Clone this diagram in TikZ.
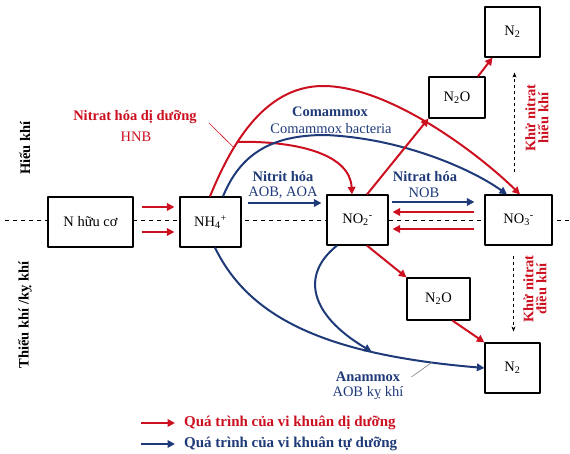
\documentclass[tikz,border=0pt]{standalone}
\usepackage{fontspec}
\setmainfont{Liberation Serif}
\usetikzlibrary{arrows.meta,positioning}
\definecolor{dgRed}{HTML}{CC1020}
\definecolor{tdBlue}{HTML}{1F3A78}

\begin{document}
\begin{tikzpicture}[x=1pt,y=-1pt,>={Triangle[length=7.5pt,width=7.5pt]},line join=round,
    font=\fontsize{14.5}{15}\selectfont,
    box/.style={draw,line width=1.2pt,fill=white,minimum height=50pt,inner sep=1pt},
    redarr/.style={->,dgRed,line width=2pt},
    bluearr/.style={->,tdBlue,line width=2pt},
    redlbl/.style={dgRed,inner sep=1pt,font=\fontsize{14.5}{15}\selectfont\bfseries},
    bluelbl/.style={tdBlue,inner sep=1pt,font=\fontsize{14.5}{15}\selectfont\bfseries},
    bluetxt/.style={tdBlue,inner sep=1pt},
    sidelbl/.style={rotate=90,align=center,font=\fontsize{14.5}{13}\selectfont\bfseries}]
    \useasboundingbox (0,0) rectangle (570,454);
    % oxic / anoxic boundary
    \draw[dashed,line width=0.9pt,dash pattern=on 4pt off 4pt] (5,220) -- (570,220);
    \node[sidelbl] (oxic) at (25,148) {Hiếu khí};
    \node[sidelbl] (anoxic) at (25,315) {Thiếu khí /kỵ khí};
    % compounds
    \node[box,minimum width=85pt] (org) at (90.5,222) {N hữu cơ};
    \node[box,minimum width=61pt] (nh4) at (210.5,222) {NH\textsubscript{4}\textsuperscript{+}};
    \node[box,minimum width=61pt] (no2) at (357.5,220) {NO\textsubscript{2}\textsuperscript{-}};
    \node[box,minimum width=67pt] (no3) at (518.5,220) {NO\textsubscript{3}\textsuperscript{-}};
    \node[box,minimum width=55pt] (n2top) at (512.5,32) {N\textsubscript{2}};
    \node[box,minimum width=56pt,minimum height=41pt] (n2otop) at (457,97.5) {N\textsubscript{2}O};
    \node[box,minimum width=63pt,minimum height=42pt] (n2obot) at (438.5,299) {N\textsubscript{2}O};
    \node[box,minimum width=55pt] (n2bot) at (512.5,368) {N\textsubscript{2}};
    % ammonification
    \draw[redarr] ([shift={(8,-15)}]org.east) -- ([shift={(-5,-15)}]nh4.west);
    \draw[redarr] ([shift={(8,10)}]org.east) -- ([shift={(-5,10)}]nh4.west);
    % nitritation / nitratation
    \draw[bluearr] ([shift={(6,-19)}]nh4.east) -- ([shift={(-5,-17)}]no2.west);
    \node[bluelbl] (nitrit) at (283,177) {Nitrit hóa};
    \node[bluetxt] (nitritsub) at (283,193) {AOB, AOA};
    \draw[bluearr] ([shift={(3,-18)}]no2.east) -- ([shift={(-10,-18)}]no3.west);
    \node[bluelbl] (nitrat) at (425,177) {Nitrat hóa};
    \node[bluetxt] (nitratsub) at (424,193) {NOB};
    \draw[redarr] ([shift={(-10,-8)}]no3.west) -- ([shift={(4,-8)}]no2.east);
    \draw[redarr] ([shift={(-10,9)}]no3.west) -- ([shift={(4,9)}]no2.east);
    % heterotrophic nitrification
    \draw[redarr] ([xshift=-0.5pt]nh4.north) .. controls (229,150) and (262,86) .. (323,86)
        coordinate[pos=0.33] (hnbtip) coordinate[pos=0.37] (hnb)
        .. controls (390,86) and (480,155) .. ([xshift=1.5pt]no3.north);
    \draw[redarr] (hnb) .. controls (300,141) and (350,155) .. ([xshift=-5.5pt]no2.north);
    \node[redlbl] (hnbname) at (135,117) {Nitrat hóa dị dưỡng};
    \node[dgRed,inner sep=1pt] (hnbsub) at (136,137) {HNB};
    \draw[dgRed,line width=0.6pt] ([shift={(11,6)}]hnbname.east) -- (hnbtip);
    % comammox
    \draw[bluearr] ([xshift=12.5pt]nh4.north) .. controls (240,155) and (270,135) .. (325,135)
        .. controls (400,138) and (470,168) .. ([xshift=-11.5pt]no3.north);
    \node[bluelbl] (comx) at (330,112) {Comammox};
    \node[bluetxt] (comxsub) at (331,129) {Comammox bacteria};
    % denitrification
    \draw[redarr] ([xshift=9.5pt]no2.north) -- (n2otop.south west);
    \draw[redarr] ([xshift=21pt]n2otop.north) -- ([xshift=-20pt]n2top.south);
    \draw[redarr] ([xshift=9.5pt]no2.south) -- (n2obot.north west);
    \draw[redarr] ([xshift=14pt]n2obot.south) -- (n2bot.north west);
    \draw[-{Stealth[length=5pt,width=4pt]},dashed,line width=0.9pt]
        ([shift={(-4,-22)}]no3.north) -- ([shift={(2,15)}]n2top.south);
    \draw[-{Stealth[length=5pt,width=4pt]},dashed,line width=0.9pt]
        ([shift={(-5,10)}]no3.south) -- ([shift={(1,-11)}]n2bot.north);
    \node[sidelbl,dgRed] (aerden) at (537,118) {Khử nitrat\\hiếu khí};
    \node[sidelbl,dgRed] (anxden) at (535,289) {Khử nitrat\\điều khí};
    % anammox
    \draw[bluearr] ([xshift=4.5pt]nh4.south) .. controls (250,320) and (330,355) .. (n2bot.west)
        coordinate[pos=0.72] (anmx) coordinate[pos=0.88] (anmxtip);
    \draw[bluearr] ([xshift=-20.5pt]no2.south) .. controls (300,275) and (310,315) .. (anmx);
    \node[bluelbl] (anmxname) at (368,377) {Anammox};
    \node[bluetxt] (anmxsub) at (368,393) {AOB kỵ khí};
    \draw[gray,line width=0.6pt] ([xshift=10pt]anmxname.east) -- (anmxtip);
    % legend
    \node[redlbl,anchor=west,font=\fontsize{15}{16}\selectfont\bfseries] (lgred) at (183,423) {Quá trình của vi khuân dị dưỡng};
    \node[bluelbl,anchor=west,font=\fontsize{15}{16}\selectfont\bfseries] (lgblue) at (183,444) {Quá trình của vi khuân tự dưỡng};
    \coordinate (lgredA) at (141,423);
    \coordinate (lgblueA) at (141,444);
    \draw[redarr] (lgredA) -- ([xshift=-8pt]lgred.west);
    \draw[bluearr] (lgblueA) -- ([xshift=-8pt]lgblue.west);
\end{tikzpicture}
\end{document}
